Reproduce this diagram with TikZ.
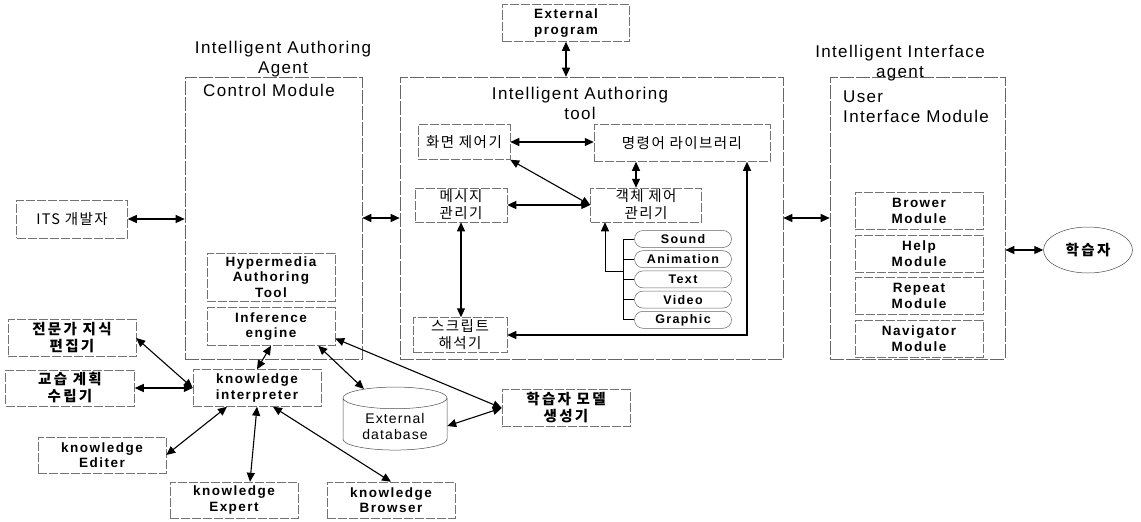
\documentclass[tikz,border=0pt]{standalone}
\usepackage{fontspec}
\setmainfont{Liberation Sans}
\newfontfamily\headfont{Liberation Sans}[LetterSpace=8]
\newfontfamily\labelfont{Liberation Sans}[LetterSpace=11]
\newfontfamily\krfont{Noto Sans CJK KR}[LetterSpace=10]
\newfontfamily\krbfont{Noto Sans CJK KR}[LetterSpace=16]
\usetikzlibrary{arrows.meta,positioning,calc,shapes.geometric}

\begin{document}
\begin{tikzpicture}[x=1pt, y=-1pt,
  frame/.style={draw=black!60, line width=0.6pt, dash pattern=on 14pt off 2pt, inner sep=0pt, minimum height=282pt},
  box/.style={draw=black!55, line width=0.5pt, dash pattern=on 9pt off 2pt, align=center, minimum width=128pt, minimum height=37pt, inner sep=1pt, font=\labelfont\bfseries\fontsize{13.5}{15.5}\selectfont},
  kbox/.style={box, font=\krfont\fontsize{14.5}{17}\selectfont},
  kbbox/.style={box, font=\krbfont\bfseries\fontsize{14.5}{17}\selectfont},
  media/.style={draw=black!60, line width=0.5pt, rounded corners=8.5pt, minimum width=97pt, minimum height=17pt, inner sep=0pt, font=\labelfont\bfseries\fontsize{12.5}{14}\selectfont},
  head/.style={align=center, inner sep=1pt, font=\headfont\fontsize{17}{20}\selectfont},
  arr/.style={{Triangle[length=9pt,width=8pt]}-{Triangle[length=9pt,width=8pt]}, line width=1.1pt},
  link/.style={line width=0.9pt}
]
\useasboundingbox (0,0) rectangle (1141,522);

% the three modules
\node[frame, minimum width=177pt] (ctrl) at (273.5,218) {};
\node[frame, minimum width=383pt] (tool) at (591.5,218) {};
\node[frame, minimum width=175pt] (ui) at (917.5,218) {};

\node[head] (ctrltitle) at (283,59) {Intelligent Authoring\\Agent};
\node[head, anchor=west] (ctrlname) at (202,90) {Control Module};
\node[head] (tooltitle) at (580,103) {Intelligent Authoring\\tool};
\node[head] (uititle) at (900,63) {Intelligent Interface\\agent};
\node[head, align=left, anchor=west] (uiname) at (842,107) {User\\Interface Module};

% authoring tool
\node[box, minimum width=127pt] (extprog) at (566,23) {External\\program};
\node[kbox, minimum width=92pt, minimum height=35pt] (screen) at (464,142) {화면 제어기};
\node[kbox, minimum width=176pt] (cmdlib) at (682,143) {명령어 라이브러리};
\node[kbox, minimum width=92pt, minimum height=34pt] (msg) at (461,205) {메시지\\관리기};
\node[kbox, minimum width=111pt, minimum height=34pt] (obj) at (646,205) {객체 제어\\관리기};
\node[kbox, minimum width=94pt, minimum height=35pt] (script) at (460,335) {스크립트\\해석기};

\node[media] (msound) at (683,239) {Sound};
\node[media, below=2.7pt of msound] (manim) {Animation};
\node[media, below=2.7pt of manim] (mtext) {Text};
\node[media, below=2.7pt of mtext] (mvideo) {Video};
\node[media, below=2.7pt of mvideo] (mgraphic) {Graphic};

% interface module
\node[box] (brower) at (919,211) {Brower\\Module};
\node[box, below=5pt of brower] (help) {Help\\Module};
\node[box, below=5pt of help] (repeat) {Repeat\\Module};
\node[box, below=5pt of repeat] (navi) {Navigator\\Module};
\node[draw=black!70, line width=0.5pt, ellipse, minimum width=89pt, minimum height=46pt, font=\krbfont\bfseries\fontsize{14.5}{17}\selectfont] (learner) at (1088,250) {학습자};

% control module and its tools
\node[kbox, minimum width=111pt, minimum height=38pt] (its) at (72,219) {ITS 개발자};
\node[box, minimum height=48pt] (hyper) at (271,277) {Hypermedia\\Authoring\\Tool};
\node[box, below=6pt of hyper, minimum height=38pt] (infer) {Inference\\engine};
\node[box] (interp) at (257,388) {knowledge\\interpreter};
\node[kbbox] (expedit) at (72,338) {전문가 지식\\편집기};
\node[kbbox, minimum width=129pt, minimum height=36pt] (plan) at (70,388) {교습 계획\\수립기};
\node[box, minimum height=36pt] (kedit) at (102,455) {knowledge\\Editer};
\node[box, minimum height=36pt] (kexpert) at (234,500) {knowledge\\Expert};
\node[box, minimum height=36pt] (kbrowser) at (391,500) {knowledge\\Browser};
\node[kbbox] (lmodel) at (566,408) {학습자 모델\\생성기};
\node[draw=black!70, line width=0.5pt, cylinder, shape border rotate=90, aspect=0.3, minimum width=104pt, minimum height=63pt, align=center, font=\headfont\fontsize{14}{16}\selectfont] (extdb) at (395,426) {External\\database};

% connectors between modules
\draw[arr] (extprog.south) -- (extprog.south |- tool.north);
\draw[arr] (its.east) -- (its.east -| ctrl.west);
\draw[arr] (ctrl.east) -- (tool.west);
\draw[arr] (tool.east) -- (ui.west);
\draw[arr] (learner.west -| ui.east) -- (learner.west);

% inside the authoring tool
\draw[arr] (screen.east) -- (screen.east -| cmdlib.west);
\draw[arr] (screen.south east) -- (obj.west);
\draw[arr] (msg.east) -- (obj.west);
\draw[arr] ([xshift=-10pt]obj.north) -- ([xshift=-10pt]obj.north |- cmdlib.south);
\draw[arr] (msg.south) -- (msg.south |- script.north);
\draw[arr] (script.east) -| ([xshift=65pt]cmdlib.south);

\coordinate (brk) at ([xshift=-11pt]msound.west);
\draw[link] (brk) -- (brk |- mgraphic.west);
\foreach \m in {msound,manim,mtext,mvideo,mgraphic}
  \draw[link] (\m.west) -- (\m.west -| brk);
\draw[link, -{Triangle[length=9pt,width=8pt]}] ($(manim.west -| brk)!0.6!(mtext.west -| brk)$) -| ([xshift=-41pt]obj.south);

% knowledge side
\draw[arr] (expedit.east) -- (interp.west);
\draw[arr] (plan.east) -- (interp.west);
\draw[arr] (interp.north) -- (infer.south);
\draw[arr] ([xshift=-17pt]infer.south east) -- (extdb.130);
\draw[arr] ([yshift=-12pt]infer.east) -- (lmodel.west);
\draw[arr] (extdb.east) -- (lmodel.west);
\draw[arr] ([xshift=-30pt]interp.south) -- (kedit.east);
\draw[arr] (interp.south) -- ([xshift=16pt]kexpert.north);
\draw[arr] ([xshift=16pt]interp.south) -- (kbrowser.north);

\end{tikzpicture}
\end{document}
